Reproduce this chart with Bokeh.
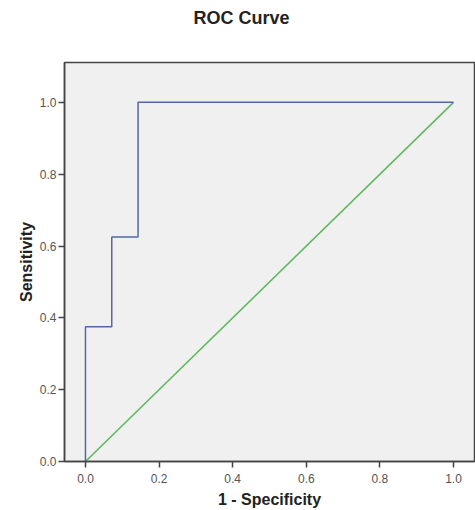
from bokeh.plotting import figure
from bokeh.models import Range1d, FixedTicker, Title
from bokeh.embed import file_html
from bokeh.resources import INLINE

# ROC curve points (1 - Specificity, Sensitivity)
fpr = [0.0, 0.0, 1/14, 1/14, 2/14, 2/14, 1.0]
tpr = [0.0, 0.375, 0.375, 0.625, 0.625, 1.0, 1.0]
# reference diagonal
diag_x = [0.0, 1.0]
diag_y = [0.0, 1.0]
ticks = [0.0, 0.2, 0.4, 0.6, 0.8, 1.0]
tick_labels = {0.0: "0.0", 0.2: "0.2", 0.4: "0.4", 0.6: "0.6", 0.8: "0.8", 1.0: "1.0"}
title_text = "ROC Curve"

p = figure(width=475, height=510, output_backend="svg", toolbar_location=None,
           x_range=Range1d(-0.057, 1.057), y_range=Range1d(0, 1.111),
           min_border_left=64, min_border_right=1,
           min_border_bottom=48, min_border_top=62)

# spacer between title and frame (closest to the frame)
p.add_layout(Title(text=" ", text_font_size="10px", standoff=17), "above")
# main title (outermost)
p.add_layout(Title(text=title_text, align="left", offset=129, standoff=10,
                   text_font="Liberation Sans", text_font_size="18px",
                   text_font_style="bold", text_color="#222222"), "above")

p.background_fill_color = "#f0f0f0"
p.border_fill_color = "white"
p.outline_line_color = "#444444"
p.outline_line_width = 1.5
p.grid.visible = False

for ax in (p.xaxis, p.yaxis):
    ax.ticker = FixedTicker(ticks=ticks)
    ax.major_label_overrides = tick_labels
    ax.minor_tick_line_color = None
    ax.axis_line_color = "#444444"
    ax.axis_line_width = 1.5
    ax.major_tick_line_color = "#444444"
    ax.major_tick_line_width = 1.5
    ax.major_tick_out = 6
    ax.major_tick_in = 0
    ax.major_label_text_font = "Liberation Sans"
    ax.major_label_text_font_size = "12px"
    ax.major_label_text_color = "#555555"
    ax.axis_label_text_font = "Liberation Sans"
    ax.axis_label_text_font_size = "16px"
    ax.axis_label_text_font_style = "bold"
    ax.axis_label_text_color = "#222222"

p.xaxis.axis_label = "1 - Specificity"
p.yaxis.axis_label = "Sensitivity"
p.xaxis.major_label_standoff = 6
p.xaxis.axis_label_standoff = 5
p.yaxis.major_label_standoff = 2
p.yaxis.axis_label_standoff = 2

p.line(diag_x, diag_y, line_color="#5cb85c", line_width=1.5)
p.line(fpr, tpr, line_color="#5466a8", line_width=1.5)

open("out.html", "w").write(file_html(p, INLINE))
